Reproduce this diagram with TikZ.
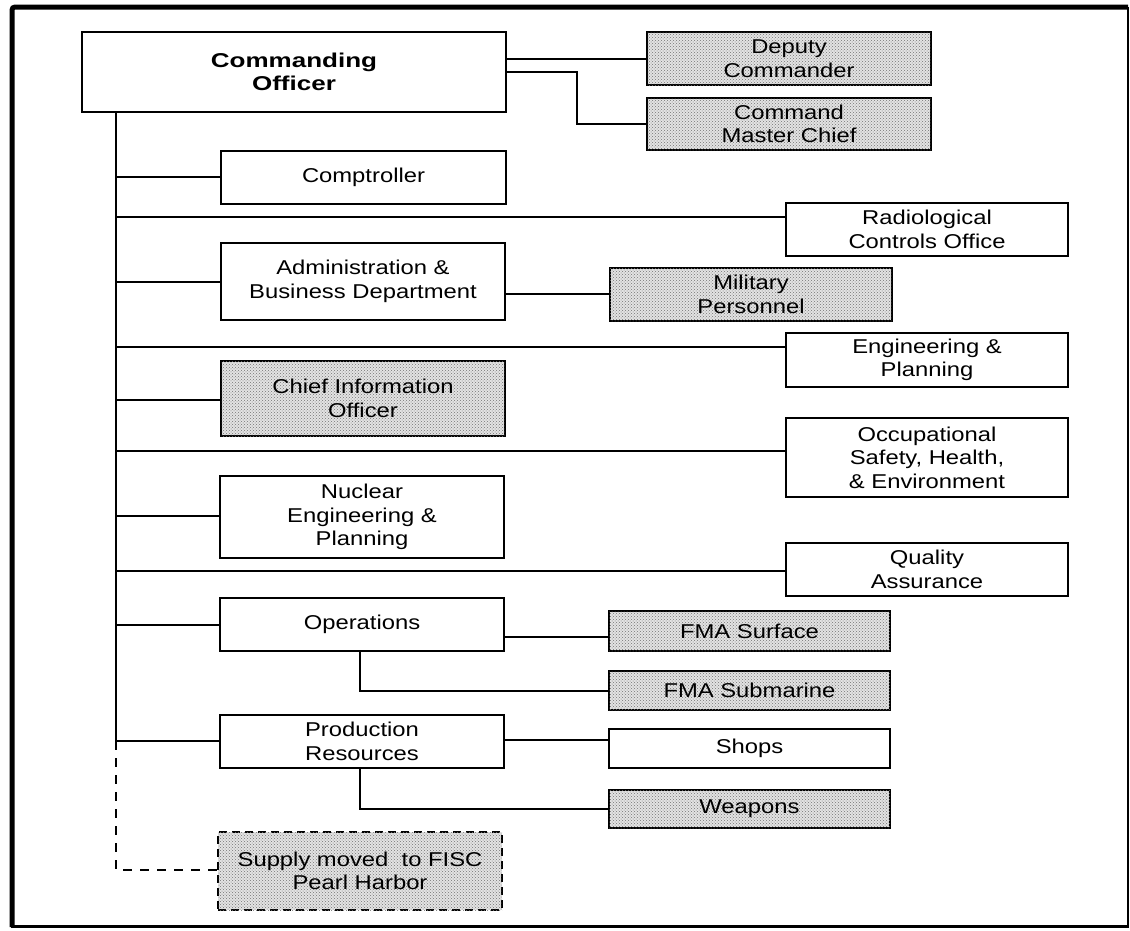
\documentclass[tikz,border=0pt]{standalone}
\usepackage{fontspec}
\setmainfont{Liberation Sans}[FakeStretch=1.19, BoldFeatures={FakeStretch=1.3}]
\usetikzlibrary{patterns}
\newcommand\boxfont{\fontsize{20}{23.5}\selectfont}

\tikzset{
  box/.style={draw, line width=2pt, inner sep=0pt, align=center, font=\boxfont},
  shadedbox/.style={box, fill=gray!22,
    postaction={pattern=crosshatch dots, pattern color=black!55}},
  supplybox/.style={shadedbox, line width=1.6pt, dash pattern=on 8pt off 5pt},
  link/.style={line width=2pt},
  dashlink/.style={line width=1.6pt, dash pattern=on 9pt off 8pt},
}

\begin{document}
\begin{tikzpicture}[x=1pt, y=-1pt]
  \fill[white] (0,0) rectangle (1130,930);
  \useasboundingbox (0,0) rectangle (1130,930);

  % outer frame: heavy top and left edges, lighter right and bottom edges
  \draw[line width=5pt, rounded corners=3pt] (12,927) -- (12,7) -- (1128,7);
  \draw[line width=2pt] (1128,7) -- (1128,927);
  \draw[line width=3pt] (11,926) -- (1129,926);

  % command group
  \node[box, minimum width=424pt, minimum height=80pt, font=\boxfont\bfseries]
    (co) at (294,72) {Commanding\\Officer};
  \node[shadedbox, minimum width=284pt, minimum height=53pt]
    (dep) at (789,58.5) {Deputy\\Commander};
  \node[shadedbox, minimum width=284pt, minimum height=52pt]
    (cmc) at (789,124) {Command\\Master Chief};

  % left column departments
  \node[box, minimum width=285pt, minimum height=53pt]
    (comp) at (363.5,177.5) {Comptroller};
  \node[box, minimum width=284pt, minimum height=77pt]
    (admin) at (363,281.5) {Administration \&\\Business Department};
  \node[shadedbox, minimum width=284pt, minimum height=75pt]
    (cio) at (363,398.5) {Chief Information\\Officer};
  \node[box, minimum width=284pt, minimum height=82pt]
    (nuc) at (362,517) {Nuclear\\Engineering \&\\Planning};
  \node[box, minimum width=284pt, minimum height=53pt]
    (ops) at (362,624.5) {Operations};
  \node[box, minimum width=284pt, minimum height=53pt]
    (prod) at (362,741.5) {Production\\Resources};
  \node[supplybox, minimum width=284pt, minimum height=78pt]
    (sup) at (360,871) {Supply moved\ \ to FISC\\Pearl Harbor};

  % right column offices
  \node[box, minimum width=282pt, minimum height=53pt]
    (rad) at (927,229.5) {Radiological\\Controls Office};
  \node[box, minimum width=282pt, minimum height=54pt]
    (eng) at (927,360) {Engineering \&\\Planning};
  \node[box, minimum width=282pt, minimum height=79pt]
    (osh) at (927,457.5) {Occupational\\Safety, Health,\\\& Environment};
  \node[box, minimum width=282pt, minimum height=53pt]
    (qa) at (927,569.5) {Quality\\Assurance};

  % sub-units
  \node[shadedbox, minimum width=282pt, minimum height=53pt]
    (mil) at (751,294.5) {Military\\Personnel};
  \node[shadedbox, minimum width=281pt, minimum height=40pt]
    (fsurf) at (749.5,631) {FMA Surface};
  \node[shadedbox, minimum width=281pt, minimum height=39pt]
    (fsub) at (749.5,690.5) {FMA Submarine};
  \node[box, minimum width=281pt, minimum height=39pt]
    (shops) at (749.5,748.5) {Shops};
  \node[shadedbox, minimum width=281pt, minimum height=38pt]
    (weap) at (749.5,809) {Weapons};

  % reference coordinates for the connector lines
  \coordinate (trunk) at (116,0);
  \coordinate (cmcx) at (577,0);
  \coordinate (depy) at (0,59);
  \coordinate (cmcy) at (0,72);
  \coordinate (compy) at (0,177);
  \coordinate (rady) at (0,217);
  \coordinate (adminy) at (0,282);
  \coordinate (mily) at (0,294);
  \coordinate (engy) at (0,347);
  \coordinate (cioy) at (0,400);
  \coordinate (oshy) at (0,451);
  \coordinate (nucy) at (0,516);
  \coordinate (qay) at (0,571);
  \coordinate (opsy) at (0,625);
  \coordinate (surfy) at (0,637);
  \coordinate (suby) at (0,691);
  \coordinate (prody) at (0,741);
  \coordinate (shopy) at (0,740);
  \coordinate (weapy) at (0,809);
  \coordinate (supy) at (0,870);
  \coordinate (subx) at (360,0);

  % connectors from the commanding officer
  \draw[link] (depy -| co.east) -- (depy -| dep.west);
  \draw[link] (cmcy -| co.east) -- (cmcy -| cmcx) |- (cmc.west);

  % main trunk and its branches
  \draw[link] (co.south -| trunk) -- (prody -| trunk);
  \draw[link] (compy -| trunk) -- (compy -| comp.west);
  \draw[link] (rady -| trunk) -- (rady -| rad.west);
  \draw[link] (adminy -| trunk) -- (adminy -| admin.west);
  \draw[link] (engy -| trunk) -- (engy -| eng.west);
  \draw[link] (cioy -| trunk) -- (cioy -| cio.west);
  \draw[link] (oshy -| trunk) -- (oshy -| osh.west);
  \draw[link] (nucy -| trunk) -- (nucy -| nuc.west);
  \draw[link] (qay -| trunk) -- (qay -| qa.west);
  \draw[link] (opsy -| trunk) -- (opsy -| ops.west);
  \draw[link] (prody -| trunk) -- (prody -| prod.west);
  \draw[dashlink] (prody -| trunk) |- (supy -| sup.west);

  % department sub-units
  \draw[link] (mily -| admin.east) -- (mily -| mil.west);
  \draw[link] (surfy -| ops.east) -- (surfy -| fsurf.west);
  \draw[link] (ops.south -| subx) |- (suby -| fsub.west);
  \draw[link] (shopy -| prod.east) -- (shopy -| shops.west);
  \draw[link] (prod.south -| subx) |- (weapy -| weap.west);
\end{tikzpicture}
\end{document}
